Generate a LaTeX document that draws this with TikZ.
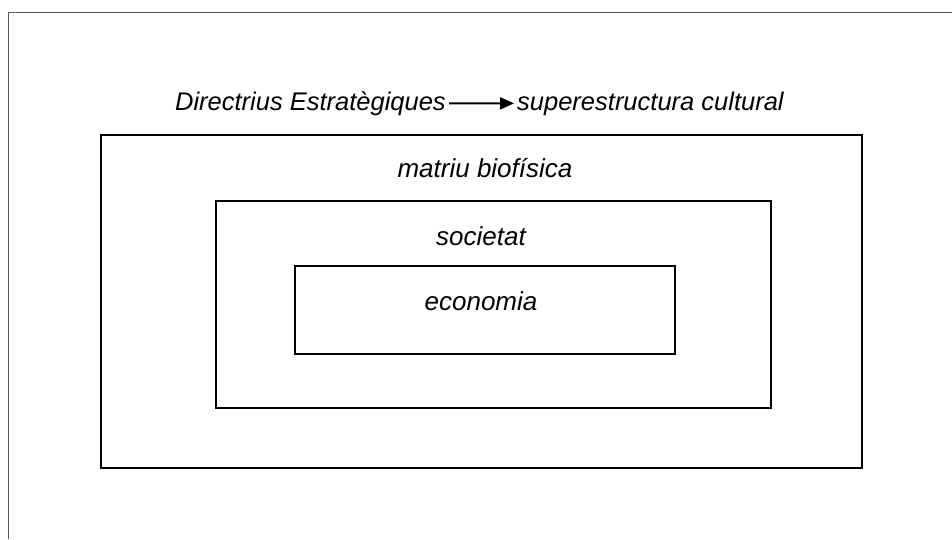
\documentclass[tikz,border=0pt]{standalone}
\usepackage{fontspec}
\setmainfont{Liberation Sans}
\usetikzlibrary{arrows.meta}
\begin{document}
\begin{tikzpicture}[x=1pt,y=-1pt,
  lbl/.style={font=\fontsize{26}{30}\selectfont\itshape, inner sep=2pt},
  toplbl/.style={font=\fontsize{25.5}{30}\selectfont\itshape, inner sep=3pt},
  boxnode/.style={draw=black, line width=1.6pt, inner sep=0pt},
  framel/.style={draw=black!65, line width=1pt}]
\useasboundingbox (0,0) rectangle (952,539);
% page frame
\coordinate (ftr) at (952,12);
\coordinate (ftl) at (8,12);
\coordinate (fbl) at (8,539);
\draw[framel] (ftr) -- (ftl) -- (fbl);
% boxes
\node[boxnode, minimum width=761pt, minimum height=333pt] (outer) at (481.5,301.5) {};
\node[boxnode, minimum width=555pt, minimum height=207pt] (middle) at (493.5,304.5) {};
\node[boxnode, minimum width=380pt, minimum height=88pt] (inner) at (485,310) {};
% labels
\node[lbl, anchor=base] (matriu) at (485,177) {matriu biofísica};
\node[lbl, anchor=base] (soc) at (481,245) {societat};
\node[lbl, anchor=base] (eco) at (481,310) {economia};
% top line
\node[toplbl, anchor=base east] (dir) at (449,110) {Directrius Estratègiques};
\node[toplbl, anchor=base west] (sup) at (514,110) {superestructura cultural};
\draw[line width=2pt, -{Triangle[length=14pt,width=12pt]}] ([yshift=0pt]dir.east) -- ([yshift=0pt]sup.west);
\end{tikzpicture}
\end{document}
